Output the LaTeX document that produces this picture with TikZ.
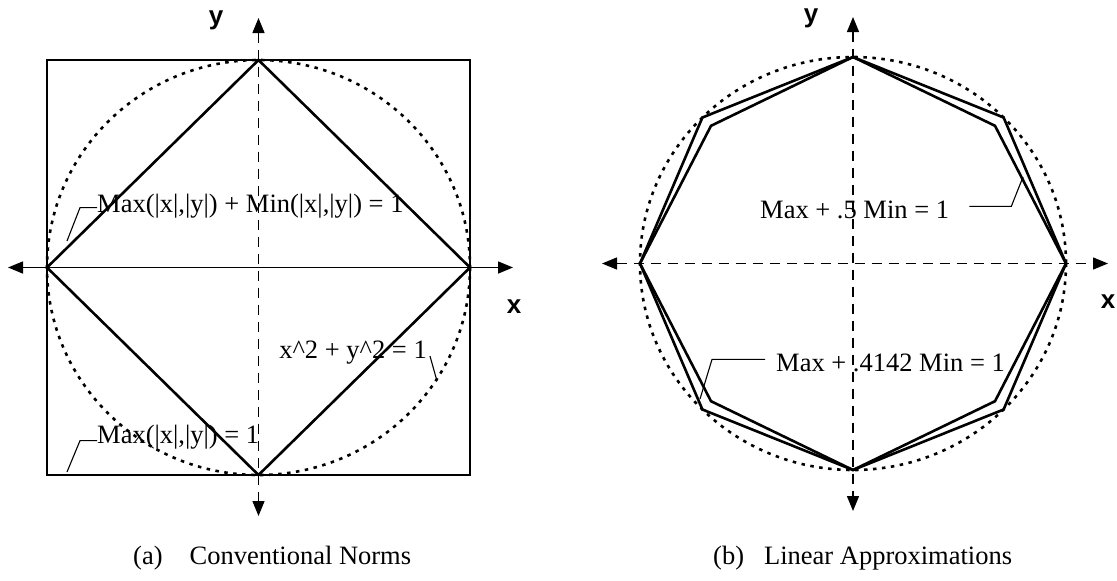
\documentclass[tikz,border=0pt]{standalone}
\usepackage{fontspec}
\setmainfont{Liberation Serif}
\setsansfont{Liberation Sans}
\usetikzlibrary{arrows.meta}
\begin{document}
\begin{tikzpicture}[x=1pt,y=-1pt,
  thickline/.style={line width=2.6pt, line join=miter},
  dotcurve/.style={line width=2.6pt, dash pattern=on 3.5pt off 5.5pt},
  axisdash/.style={line width=1.4pt, dash pattern=on 10pt off 7pt},
  axissolid/.style={line width=1.5pt},
  leader/.style={line width=1.1pt},
  lbl/.style={font=\fontsize{26.5}{29}\selectfont, inner sep=0pt},
  axlbl/.style={font=\sffamily\bfseries\fontsize{26}{28}\selectfont, inner sep=0pt, anchor=base},
  tips/.style={{Triangle[length=15pt,width=12pt]}-{Triangle[length=15pt,width=12pt]}},
]
\useasboundingbox (0,0) rectangle (1117,581);

% ---------------- left diagram ----------------
\coordinate (LC) at (258.5,267.5);
\coordinate (LW) at (8,267.5);
\coordinate (LE) at (513,267.5);
\coordinate (LN) at (258.5,18);
\coordinate (LS) at (258.5,516);
\coordinate (Sq1) at (47,60);
\coordinate (Sq2) at (470,475);
\coordinate (D1) at (258.5,60);
\coordinate (D2) at (470,267.5);
\coordinate (D3) at (258.5,475);
\coordinate (D4) at (47,267.5);

\draw[thickline] (Sq1) rectangle (Sq2);
\draw[thickline] (D1) -- (D2) -- (D3) -- (D4) -- cycle;
\draw[dotcurve] (LC) ellipse [x radius=211.5, y radius=207.5];
\draw[axissolid, tips] (LW) -- (LE);
\draw[axisdash, tips] (LN) -- (LS);

\node[axlbl] (ly) at (216,24) {y};
\node[axlbl] (lx) at (514,313) {x};

\node[lbl, anchor=base west] (L1) at (97,212) {Max(|x|,|y|) + Min(|x|,|y|) = 1};
\coordinate (L1e) at (67,241);
\draw[leader] ([yshift=-2pt]L1.west) -- ++(-17,0) -- (L1e);

\node[lbl, anchor=base west] (L2) at (97,443) {Max(|x|,|y|) = 1};
\coordinate (L2e) at (67,472);
\draw[leader] ([yshift=-4pt]L2.west) -- ++(-17,0) -- (L2e);

\node[lbl, anchor=base east] (L3) at (427,358) {x\textasciicircum 2 + y\textasciicircum 2 = 1};
\coordinate (L3e) at (437,381);
\draw[leader] ([xshift=3pt,yshift=-4pt]L3.east) -- (L3e);

\node[lbl, anchor=base west] (capA) at (133,564) {(a)\hspace{27pt}Conventional Norms};

% ---------------- right diagram ----------------
\coordinate (RC) at (853,263.5);
\coordinate (RW) at (602,263.5);
\coordinate (RE) at (1108,263.5);
\coordinate (RN) at (853,17);
\coordinate (RS) at (853,511);

\draw[dotcurve] (RC) ellipse [x radius=213, y radius=206.5];
\draw[axisdash, tips] (RW) -- (RE);
\draw[axisdash, tips] (RN) -- (RS);

% Max + .4142 Min = 1 (regular octagon)
\draw[thickline] (1066,263.5) -- (1003.6,117.5) -- (853,57) -- (702.4,117.5)
  -- (640,263.5) -- (702.4,409.5) -- (853,470) -- (1003.6,409.5) -- cycle;
% Max + .5 Min = 1
\draw[thickline] (1066,263.5) -- (995,125.8) -- (853,57) -- (711,125.8)
  -- (640,263.5) -- (711,401.2) -- (853,470) -- (995,401.2) -- cycle;

\node[axlbl] (ry) at (811,22) {y};
\node[axlbl] (rx) at (1108,308) {x};

\node[lbl, anchor=base west] (R1) at (760,218) {Max + .5 Min = 1};
\coordinate (R1e) at (1023,177);
\draw[leader] ([xshift=20pt,yshift=3pt]R1.east) -- ++(42,0) -- (R1e);

\node[lbl, anchor=base west] (R2) at (776,371) {Max + .4142 Min = 1};
\coordinate (R2e) at (700,399);
\draw[leader] ([xshift=-11pt,yshift=3pt]R2.west) -- ++(-53,0) -- (R2e);

\node[lbl, anchor=base west] (capB) at (713,564) {(b)\hspace{20pt}Linear Approximations};
\end{tikzpicture}
\end{document}
